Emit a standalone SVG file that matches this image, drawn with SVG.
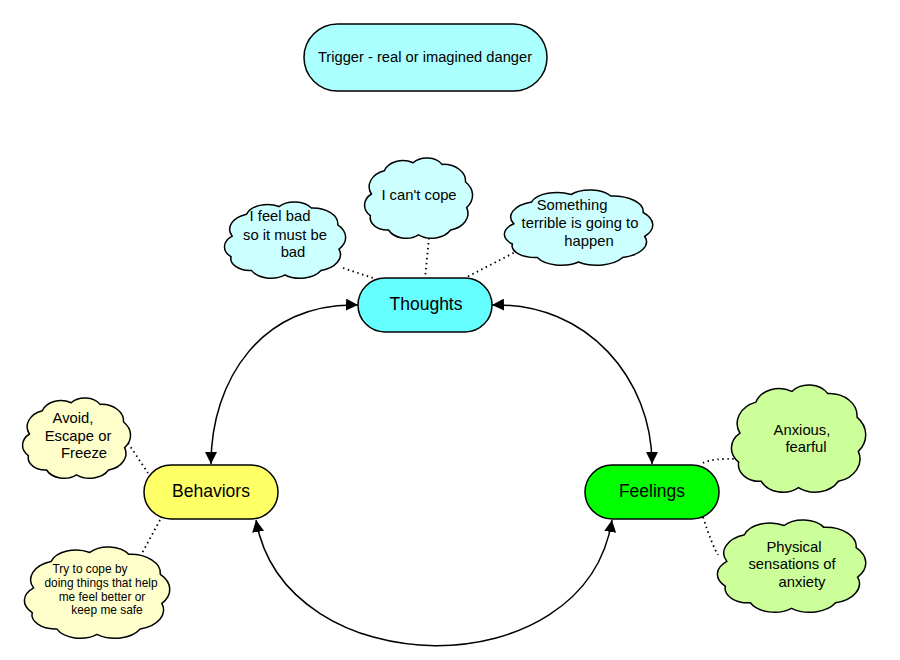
<svg xmlns="http://www.w3.org/2000/svg" xmlns:xlink="http://www.w3.org/1999/xlink" width="900" height="660" viewBox="0 0 900 660">
<style>
text{font-family:"Liberation Sans",Arial,sans-serif;fill:#000;text-anchor:middle}
.node{stroke:#000;stroke-width:1.5}
.lbl{font-size:17.5px}
.ct{font-size:14.8px}
.cs{font-size:11.9px}
.cloud{stroke:#000;stroke-width:1.5}
.c1{fill:#ccffff}.c2{fill:#ffffcc}.c3{fill:#ccff99}
.link{fill:none;stroke:#000;stroke-width:1.5;marker-start:url(#arr);marker-end:url(#arr)}
.dot{fill:none;stroke:#000;stroke-width:1.8;stroke-dasharray:1.5 3.5}
</style>
<defs>
<marker id="arr" viewBox="0 0 10 10" refX="10" refY="5" markerWidth="12" markerHeight="12" markerUnits="userSpaceOnUse" orient="auto-start-reverse">
<path d="M0,0 L10,5 L0,10 Z" fill="#000"/>
</marker>
<path id="cl" vector-effect="non-scaling-stroke" d="M6,45 A21 21 0 0 1 18,16 A18.3 18.3 0 0 1 45,6 A16.6 16.6 0 0 1 72,8 A20.8 20.8 0 0 1 94,30 A24.3 24.3 0 0 1 95,62 A21.5 21.5 0 0 1 80,90 A20.2 20.2 0 0 1 50,96 A18.1 18.1 0 0 1 22,90 A15.8 15.8 0 0 1 5,72 A18.4 18.4 0 0 1 6,45 Z"/>
</defs>
<rect width="900" height="660" fill="#fff"/>
<g id="connectors">
<path class="link" d="M358,305 C262,302 211,380 211,464"/>
<path class="link" d="M492,305 C588,302 652,380 652,464"/>
<path class="link" d="M256,520 C285,685 585,690 612,520"/>
<path class="dot" d="M343,268 L373,278"/>
<path class="dot" d="M429,238 L425,278"/>
<path class="dot" d="M527,246 L465,278"/>
<path class="dot" d="M128,443 L148,473"/>
<path class="dot" d="M160,520 L140,557"/>
<path class="dot" d="M703,463 Q712,458 740,459"/>
<path class="dot" d="M703,517 Q712,545 718,555"/>
</g>
<g id="trigger">
<rect class="node" x="304" y="24" width="243" height="67" rx="33.5" fill="#aaffff"/>
<text x="425" y="62" style="font-size:14.7px">Trigger - real or imagined danger</text>
</g>
<g id="thoughts">
<rect class="node" x="358" y="278" width="134" height="54" rx="27" fill="#66ffff"/>
<text class="lbl" x="426" y="310">Thoughts</text>
</g>
<g id="behaviors">
<rect class="node" x="144" y="465" width="134" height="54" rx="27" fill="#ffff66"/>
<text class="lbl" x="211" y="497">Behaviors</text>
</g>
<g id="feelings">
<rect class="node" x="585" y="465" width="134" height="54" rx="27" fill="#00ff00"/>
<text class="lbl" x="652" y="497">Feelings</text>
</g>
<g id="cloud-feelbad">
<use xlink:href="#cl" class="cloud c1" transform="translate(225,202) scale(1.2,0.76)"/>
<text class="ct"><tspan x="280" y="221">I feel bad</tspan><tspan x="285" y="240">so it must be</tspan><tspan x="293" y="257">bad</tspan></text>
</g>
<g id="cloud-cantcope">
<use xlink:href="#cl" class="cloud c1" transform="translate(365,158) scale(1.07,0.8)"/>
<text class="ct" x="419" y="200">I can't cope</text>
</g>
<g id="cloud-something">
<use xlink:href="#cl" class="cloud c1" transform="translate(505,190) scale(1.47,0.75)"/>
<text class="ct"><tspan x="572" y="210">Something</tspan><tspan x="580" y="228">terrible is going to</tspan><tspan x="589" y="246">happen</tspan></text>
</g>
<g id="cloud-avoid">
<use xlink:href="#cl" class="cloud c2" transform="translate(23,398) scale(1.07,0.8)"/>
<text class="ct"><tspan x="73" y="423">Avoid,</tspan><tspan x="78" y="441">Escape or</tspan><tspan x="84" y="458">Freeze</tspan></text>
</g>
<g id="cloud-try">
<use xlink:href="#cl" class="cloud c2" transform="translate(25,547) scale(1.44,0.91)"/>
<text class="cs"><tspan x="90" y="573">Try to cope by</tspan><tspan x="101" y="587">doing things that help</tspan><tspan x="102" y="601">me feel better or</tspan><tspan x="107" y="614">keep me safe</tspan></text>
</g>
<g id="cloud-anxious">
<use xlink:href="#cl" class="cloud c3" transform="translate(732,385) scale(1.33,1.07)"/>
<text class="ct"><tspan x="802" y="435">Anxious,</tspan><tspan x="806" y="452">fearful</tspan></text>
</g>
<g id="cloud-physical">
<use xlink:href="#cl" class="cloud c3" transform="translate(718,520) scale(1.47,0.92)"/>
<text class="ct"><tspan x="794" y="552">Physical</tspan><tspan x="792" y="569">sensations of</tspan><tspan x="802" y="587">anxiety</tspan></text>
</g>
</svg>
